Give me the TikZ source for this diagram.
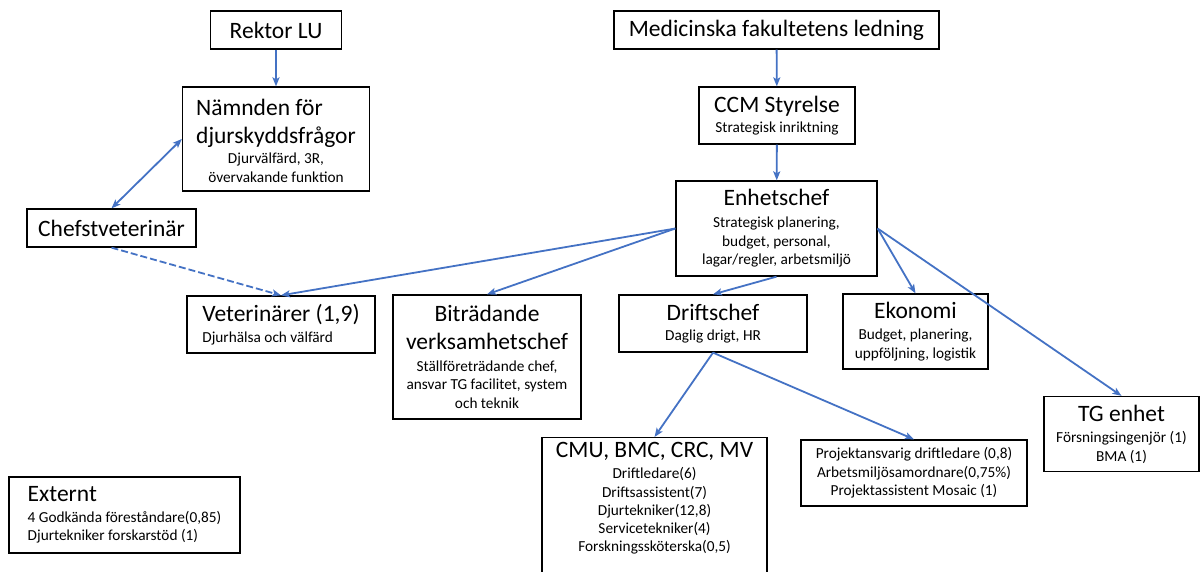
\documentclass[tikz,border=0pt]{standalone}
\usepackage{fontspec}
\setmainfont{Carlito}
\usetikzlibrary{arrows.meta}
\definecolor{linkblue}{HTML}{4472C4}
\newcommand{\ttl}[1]{{\fontsize{23.5}{28}\selectfont #1}}
\begin{document}
\begin{tikzpicture}[x=1pt, y=-1pt]
\useasboundingbox (0,0) rectangle (1201,571);

\tikzset{every node/.style={draw, line width=1.3pt, inner sep=0pt, align=center, font=\fontsize{15.3}{18.6}\selectfont}}
\node[minimum width=131, minimum height=38] (rektor) at (276, 30) {\ttl{Rektor LU}};
\node[minimum width=325, minimum height=38] (medfak) at (776.5, 30) {\ttl{Medicinska fakultetens ledning}};
\node[minimum width=187, minimum height=104] (namnd) at (276, 139) {\ttl{\begin{tabular}{@{}l@{}}Nämnden för\\djurskyddsfrågor\end{tabular}}\\ Djurvälfärd, 3R,\\ övervakande funktion};
\node[minimum width=156, minimum height=57] (ccm) at (777, 115.5) {\ttl{CCM Styrelse}\\[2pt] Strategisk inriktning};
\node[minimum width=201, minimum height=95] (enhet) at (776.5, 228.5) {\ttl{Enhetschef}\\[3pt] Strategisk planering,\\ budget, personal,\\ lagar/regler, arbetsmiljö};
\node[minimum width=169, minimum height=38] (chefvet) at (111.5, 228) {\ttl{Chefstveterinär}};
\node[minimum width=188, minimum height=57, align=left] (vet) at (281, 324.5) {\ttl{Veterinärer (1,9)}\\[2pt] Djurhälsa och välfärd};
\node[minimum width=188, minimum height=124] (bitr) at (487, 357) {\ttl{Biträdande}\\[9pt] \ttl{verksamhetschef}\\[3pt] Ställföreträdande chef,\\ ansvar TG facilitet, system\\ och teknik};
\node[minimum width=188, minimum height=57] (drift) at (713, 323.5) {\ttl{Driftschef}\\[2pt] Daglig drigt, HR};
\node[minimum width=145, minimum height=75] (ekon) at (915.5, 331.5) {\ttl{Ekonomi}\\[3pt] Budget, planering,\\ uppföljning, logistik};
\node[minimum width=155, minimum height=75] (tg) at (1121.5, 434) {\ttl{TG enhet}\\[3pt] Försningsingenjör (1)\\ BMA (1)};
\node[minimum width=225, minimum height=150, anchor=north] (cmu) at (654.5, 437) {};
\node[minimum width=226, minimum height=66] (proj) at (914, 473) {Projektansvarig driftledare (0,8)\\ Arbetsmiljösamordnare(0,75\%)\\ Projektassistent Mosaic (1)};
\node[minimum width=231, minimum height=76, align=left] (externt) at (124.5, 515) {\ttl{Externt}\\[2pt] 4 Godkända föreståndare(0,85)\\ Djurtekniker forskarstöd (1)};

\tikzset{every node/.style={inner sep=0pt, align=center, font=\fontsize{15.3}{18.3}\selectfont}}
\node[anchor=north] (cmutext) at ([yshift=-5pt]cmu.north) {\ttl{CMU, BMC, CRC, MV}\\[3pt] Driftledare(6)\\ Driftsassistent(7)\\ Djurtekniker(12,8)\\ Servicetekniker(4)\\ Forskningssköterska(0,5)};

\tikzset{link/.style={-{Stealth[length=9pt, width=7pt, inset=2pt]}, line width=1.8pt, linkblue}};
\path (rektor) edge [link] (namnd);
\path (medfak) edge [link] (ccm);
\path (ccm) edge [link] (enhet);
\path (namnd.west) edge [link, {Stealth[length=9pt, width=7pt, inset=2pt]}-{Stealth[length=9pt, width=7pt, inset=2pt]}] (chefvet.north);
\path (enhet.west) edge [link] (vet.north);
\path (enhet.west) edge [link] (bitr.north);
\path (enhet.south) edge [link] (drift.north);
\path (enhet.east) edge [link] (ekon.north);
\path (enhet.east) edge [link] (tg.north);
\path (drift.south) edge [link] (cmu.north);
\path (drift.south) edge [link] (proj.north);

\tikzset{link/.style={-{Stealth[length=9pt, width=7pt, inset=2pt]}, line width=1.8pt, linkblue, dash pattern=on 7pt off 3pt}};
\path (chefvet.south) edge [link] (vet.north);
\end{tikzpicture}
\end{document}
